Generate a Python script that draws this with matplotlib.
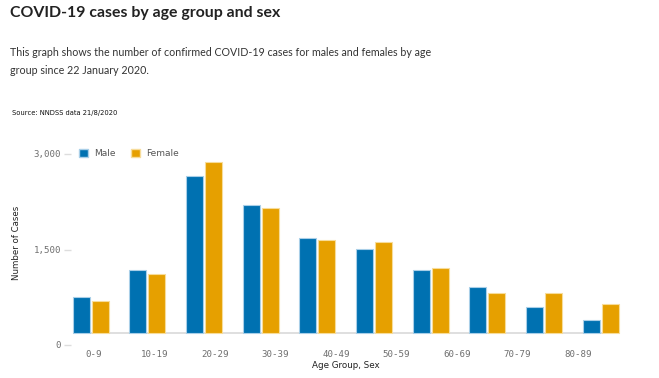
import numpy as np
import matplotlib.pyplot as plt
from matplotlib.patches import Patch

# ---------------- data ----------------
groups = ["0-9", "10-19", "20-29", "30-39", "40-49",
          "50-59", "60-69", "70-79", "80-89", "90+"]
male = [749, 1173, 2659, 2194, 1685, 1508, 1183, 916, 597, 388]
female = [691, 1115, 2874, 2152, 1644, 1613, 1214, 821, 821, 644]
shown_labels = ["0-9", "10-19", "20-29", "30-39", "40-49",
                "50-59", "60-69", "70-79", "80-89"]
yticks = [0, 1500, 3000]
ytick_labels = ["0", "1,500", "3,000"]

BLUE = "#0071b1"
ORANGE = "#e6a000"
base = 193          # bars sit slightly above the zero tick in the original

W, H = 659, 378
fig = plt.figure(figsize=(W / 100, H / 100), dpi=100)

# ---------------- header text ----------------
fig.text(10 / W, 1 - 13 / H, "COVID-19 cases by age group and sex",
         fontsize=11.4, fontweight="bold", family="Lato",
         color="#222222", ha="left", va="center")
fig.text(10 / W, 1 - 52 / H,
         "This graph shows the number of confirmed COVID-19 cases for males and females by age",
         fontsize=7.7, family="Lato", color="#333333", ha="left", va="center")
fig.text(10 / W, 1 - 71 / H, "group since 22 January 2020.",
         fontsize=7.7, family="Lato", color="#333333", ha="left", va="center")
fig.text(12 / W, 1 - 113 / H, "Source: NNDSS data 21/8/2020",
         fontsize=4.85, family="Liberation Sans Narrow", color="#111111",
         ha="left", va="center")

# ---------------- axes ----------------
L, R, T, B = 40, 640, 140, 350
ax = fig.add_axes([L / W, 1 - B / H, (R - L) / W, (B - T) / H])
upx = 56.67                        # pixels per group
ax.set_xlim(-(90.7 - L) / upx, 9 + (R - 600.7) / upx)
ppv = 95.5 / 1500                  # pixels per case
ax.set_ylim(-(B - 345) / ppv, (345 - T) / ppv)

for s in ax.spines.values():
    s.set_visible(False)
ax.spines["left"].set_position(("data", -0.35))

x = np.arange(len(groups))
bw = 17.2 / upx
off = 9.5 / upx
m = np.array(male)
f = np.array(female)
ax.bar(x - off, m - base, bottom=base, width=bw, color=BLUE,
       edgecolor="#a9cfe8", linewidth=0.8, zorder=3)
ax.bar(x + off, f - base, bottom=base, width=bw, color=ORANGE,
       edgecolor="#f7dc9a", linewidth=0.8, zorder=3)
ax.hlines(base, -0.32, 9.32, color="#d9d9d9", lw=1.2, zorder=2)

ax.set_yticks(yticks)
ax.set_yticklabels(ytick_labels, family="DejaVu Sans Mono", fontsize=6.6,
                   color="#6f6f6f")
ax.tick_params(axis="y", length=5, width=1, color="#dddddd", pad=2)

ax.set_xticks(np.linspace(0.06, 8.6, len(shown_labels)))
ax.set_xticklabels(shown_labels, family="DejaVu Sans Mono", fontsize=6.6,
                   color="#6f6f6f")
ax.tick_params(axis="x", length=0, pad=0)

ax.set_ylabel("Number of Cases", fontsize=6.2, color="#222222",
              family="DejaVu Sans")
ax.yaxis.set_label_coords((20.7 - L) / (R - L), (B - 243) / (B - T))
ax.set_xlabel("Age Group, Sex", fontsize=6.3, color="#222222",
              family="DejaVu Sans")
ax.xaxis.set_label_coords((346 - L) / (R - L), -(360.7 - B) / (B - T))

# ---------------- legend ----------------
handles = [Patch(facecolor=BLUE, edgecolor="#a9cfe8", label="Male"),
           Patch(facecolor=ORANGE, edgecolor="#f7dc9a", label="Female")]
leg = fig.legend(handles=handles, loc="center left",
                 bbox_to_anchor=(79 / W, 1 - 153.5 / H), ncol=2, frameon=False,
                 handlelength=0.95, handleheight=0.95, handletextpad=0.75,
                 columnspacing=1.7, fontsize=6.5, borderaxespad=0, borderpad=0)
for t in leg.get_texts():
    t.set_color("#555555")

fig.savefig("out.png", dpi=100)
